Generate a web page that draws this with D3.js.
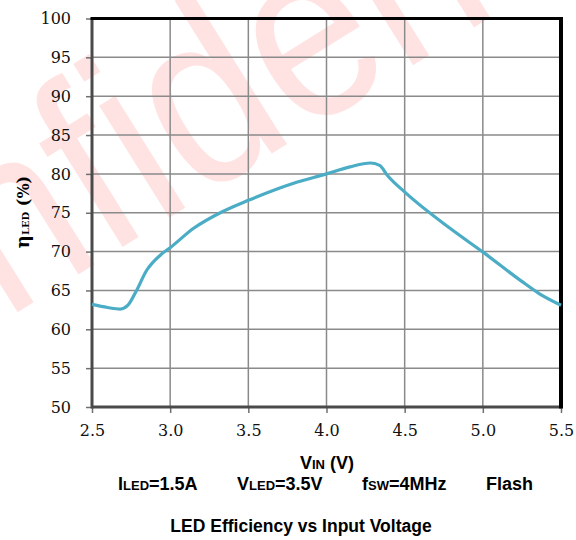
<!DOCTYPE html>
<html><head><meta charset="utf-8">
<script src="https://cdn.jsdelivr.net/npm/d3@7"></script>
<style>body{margin:0;background:#fff}svg{display:block}</style>
</head><body>
<svg id="c" width="576" height="540"></svg>
<script>
const vin = [2.5, 2.6, 2.68, 2.73, 2.78, 2.85, 2.94, 3.0, 3.15, 3.33, 3.5, 3.79, 4.0, 4.15, 4.28, 4.34, 4.39, 4.51, 4.79, 5.01, 5.24, 5.36, 5.5];
const eff = [63.2, 62.8, 62.6, 63.1, 64.8, 67.6, 69.6, 70.5, 73.0, 75.1, 76.6, 78.8, 80.0, 80.9, 81.4, 81.1, 79.8, 77.5, 73.0, 69.8, 66.3, 64.6, 63.1];
const xTicks = [2.5, 3.0, 3.5, 4.0, 4.5, 5.0, 5.5];
const yTicks = [50, 55, 60, 65, 70, 75, 80, 85, 90, 95, 100];

const svg = d3.select("#c");
const x = d3.scaleLinear().domain([2.5, 5.5]).range([92, 561]);
const y = d3.scaleLinear().domain([50, 100]).range([407, 18.5]);

// watermark
svg.append("text")
  .attr("transform", "translate(-228,466) rotate(-32) scale(0.86,1)")
  .attr("font-family", "Liberation Sans, Arial, sans-serif")
  .attr("font-size", 250)
  .attr("fill", "#ff0000").attr("fill-opacity", 0.11)
  .text("Confidential");

// grid
svg.append("g").selectAll("line").data(yTicks).join("line")
  .attr("x1", x(2.5)).attr("x2", x(5.5))
  .attr("y1", d => y(d)).attr("y2", d => y(d))
  .attr("stroke", "#8a8a8a").attr("stroke-width", 1.5);
svg.append("g").selectAll("line").data(xTicks).join("line")
  .attr("x1", d => x(d)).attr("x2", d => x(d))
  .attr("y1", y(50)).attr("y2", y(100))
  .attr("stroke", "#8a8a8a").attr("stroke-width", 1.5);

// axes
const yAxis = d3.axisLeft(y).tickValues(yTicks).tickSize(6).tickPadding(15).tickFormat(d3.format("d"));
const gy = svg.append("g").attr("transform", `translate(${x(2.5)},0)`).call(yAxis);
gy.select(".domain").remove();
gy.selectAll(".tick line").attr("stroke", "#707070").attr("stroke-width", 1.5);
gy.selectAll(".tick text").attr("font-family", "DejaVu Serif, serif").attr("font-size", 16).attr("fill", "#111");

const xAxis = d3.axisBottom(x).tickValues(xTicks).tickSize(6).tickPadding(12).tickFormat(d3.format(".1f"));
const gx = svg.append("g").attr("transform", `translate(0,${y(50)})`).call(xAxis);
gx.select(".domain").remove();
gx.selectAll(".tick line").attr("stroke", "#707070").attr("stroke-width", 1.5);
gx.selectAll(".tick text").attr("font-family", "DejaVu Serif, serif").attr("font-size", 16).attr("fill", "#111");

// frame
svg.append("line").attr("x1", x(2.5)).attr("x2", x(2.5)).attr("y1", y(100)).attr("y2", y(50)+1.5)
  .attr("stroke", "#4a4a4a").attr("stroke-width", 3);
svg.append("line").attr("x1", x(2.5)).attr("x2", x(5.5)).attr("y1", y(50)).attr("y2", y(50))
  .attr("stroke", "#4a4a4a").attr("stroke-width", 3);
svg.append("line").attr("x1", x(2.5)-1.5).attr("x2", x(5.5)+2).attr("y1", y(100)).attr("y2", y(100))
  .attr("stroke", "#000").attr("stroke-width", 3);
svg.append("line").attr("x1", x(5.5)).attr("x2", x(5.5)).attr("y1", y(100)-1.5).attr("y2", y(50)+1.5)
  .attr("stroke", "#000").attr("stroke-width", 4);

// curve
const line = d3.line().x((d, i) => x(vin[i])).y(d => y(d)).curve(d3.curveMonotoneX);
svg.append("path").attr("d", line(eff)).attr("fill", "none")
  .attr("stroke", "#4bacc6").attr("stroke-width", 3.2).attr("stroke-linejoin", "round");

// y label
const yl = svg.append("text").attr("transform", "translate(29,212) rotate(-90)")
  .attr("text-anchor", "middle").attr("font-family", "DejaVu Serif, serif").attr("font-weight", "bold").attr("fill", "#000");
yl.append("tspan").attr("font-size", 18).text("η");
yl.append("tspan").attr("font-size", 10).text("LED");
yl.append("tspan").attr("font-size", 16).text(" (%)");

// x label
const xl = svg.append("text").attr("x", 327).attr("y", 469).attr("text-anchor", "middle")
  .attr("font-family", "Liberation Sans, Arial, sans-serif").attr("font-weight", "bold").attr("fill", "#000");
xl.append("tspan").attr("font-size", 18).text("V");
xl.append("tspan").attr("font-size", 13).text("IN");
xl.append("tspan").attr("font-size", 18).text("  (V)");

// conditions
const conds = [
  {x: 118, parts: [["I", 18], ["LED", 13], ["=1.5A", 18]]},
  {x: 237, parts: [["V", 18], ["LED", 13], ["=3.5V", 18]]},
  {x: 362, parts: [["f", 18], ["SW", 13], ["=4MHz", 18]]},
  {x: 486, parts: [["Flash", 18]]}
];
conds.forEach(c => {
  const t = svg.append("text").attr("x", c.x).attr("y", 490)
    .attr("font-family", "Liberation Sans, Arial, sans-serif").attr("font-weight", "bold").attr("fill", "#000");
  c.parts.forEach(p => t.append("tspan").attr("font-size", p[1]).text(p[0]));
});

// title
svg.append("text").attr("x", 301).attr("y", 532).attr("text-anchor", "middle")
  .attr("font-family", "Liberation Sans, Arial, sans-serif").attr("font-weight", "bold").attr("font-size", 17.5)
  .attr("fill", "#000").text("LED Efficiency vs Input Voltage");
</script>
</body></html>
